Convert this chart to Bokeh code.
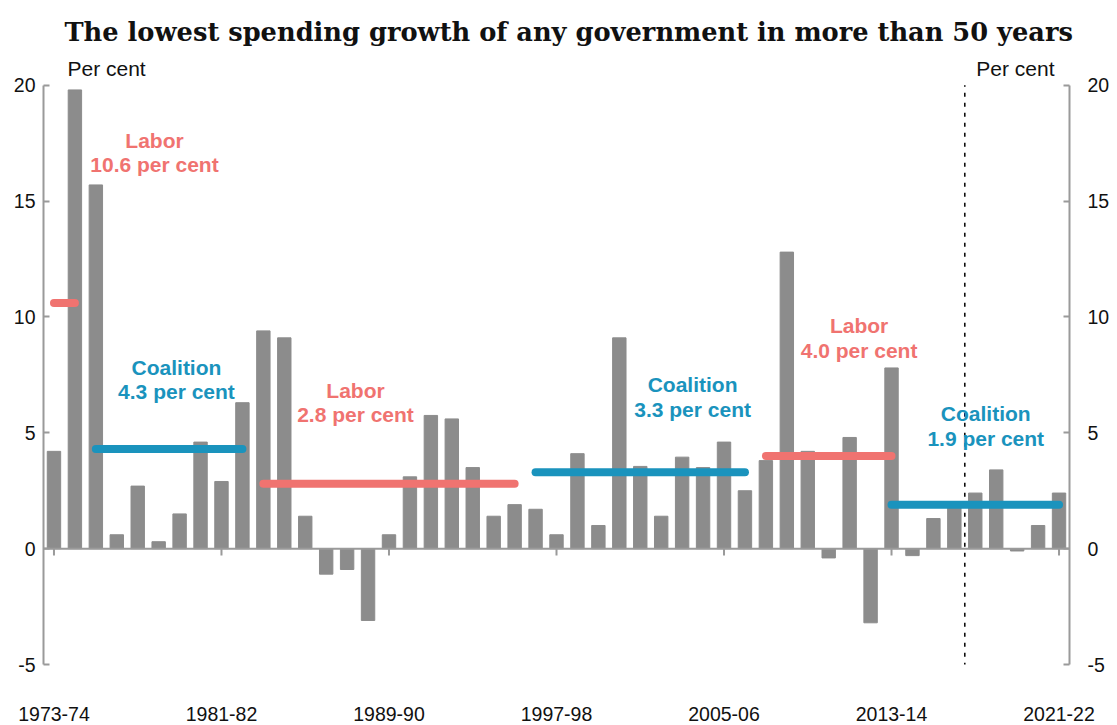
from bokeh.plotting import figure
from bokeh.models import (Range1d, LinearAxis, FixedTicker, Span, Label)
from bokeh.core.properties import value
from bokeh.embed import file_html
from bokeh.resources import INLINE

# ---------------- data ----------------
years = [f"{y}-{str(y + 1)[-2:]}" for y in range(1973, 2022)]
growth = [4.2, 19.8, 15.7, 0.6, 2.7, 0.3, 1.5, 4.6, 2.9, 6.3,
          9.4, 9.1, 1.4, -1.1, -0.9, -3.1, 0.6, 3.1, 5.75, 5.6,
          3.5, 1.4, 1.9, 1.7, 0.6, 4.1, 1.0, 9.1, 3.55, 1.4,
          3.95, 3.5, 4.6, 2.5, 3.8, 12.8, 4.2, -0.4, 4.8, -3.2,
          7.8, -0.3, 1.3, 1.8, 2.4, 3.4, -0.1, 1.0, 2.4]
tick_labels = ["1973-74", "1981-82", "1989-90", "1997-98", "2005-06", "2013-14", "2021-22"]
y_ticks = [-5, 0, 5, 10, 15, 20]
y_tick_labels = ["-5", "0", "5", "10", "15", "20"]

gov_party = ["Labor", "Coalition", "Labor", "Coalition", "Labor", "Coalition"]
gov_avg = [10.6, 4.3, 2.8, 3.3, 4.0, 1.9]
gov_start = ["1973-74", "1975-76", "1983-84", "1996-97", "2007-08", "2013-14"]
gov_end = ["1974-75", "1982-83", "1995-96", "2006-07", "2013-14", "2021-22"]
forecast_after = "2016-17"

# ---------------- styling / layout ----------------
LABOR = "#F07370"
COALITION = "#1A93BD"
BAR = "#8C8C8C"
AXIS = "#9A9A9A"
TEXT = "#111111"
party_color = {"Labor": LABOR, "Coalition": COALITION}
# annotation label anchor positions (index, value)
label_pos = [(4.8, 17.1), (5.85, 7.3), (14.4, 6.3), (30.5, 6.55), (38.45, 9.1), (44.5, 5.3)]

Y_LO, Y_HI, Y_TOP = -5, 20, 21.2   # range shown; axes drawn from Y_LO to Y_HI
PX_PER_UNIT = 579 / 25

idx = list(range(len(years)))
pos = {y: i for i, y in enumerate(years)}
ticks = [pos[t] for t in tick_labels]

p = figure(frame_width=1026, frame_height=round(PX_PER_UNIT * (Y_TOP - Y_LO)),
           output_backend="svg", toolbar_location=None,
           x_range=Range1d(-0.5, len(years) - 0.5), y_range=Range1d(Y_LO, Y_TOP),
           min_border_left=43, min_border_right=40, min_border_top=57, min_border_bottom=61)
p.outline_line_color = None
p.grid.visible = False
p.background_fill_color = "white"
p.border_fill_color = "white"

p.title.text = "The lowest spending growth of any government in more than 50 years"
p.title.text_font = "DejaVu Serif"
p.title.text_font_size = "25.7px"
p.title.text_font_style = "bold"
p.title.text_color = TEXT
p.title.align = "left"
p.title.standoff = 22
p.title.offset = 21

# y axes
right = LinearAxis()
p.add_layout(right, "right")
for ax in [p.yaxis[0], right]:
    ax.ticker = FixedTicker(ticks=y_ticks)
    ax.major_label_overrides = {t: lab for t, lab in zip(y_ticks, y_tick_labels)}
    ax.bounds = (Y_LO, Y_HI)
    ax.axis_line_color = AXIS
    ax.axis_line_width = 2
    ax.major_tick_line_color = AXIS
    ax.major_tick_line_width = 2
    ax.major_tick_in = 6
    ax.major_tick_out = 0
    ax.minor_tick_line_color = None
    ax.major_label_text_font = "Liberation Sans"
    ax.major_label_text_font_size = "19.5px"
    ax.major_label_text_color = TEXT
p.yaxis[0].major_label_standoff = 8
right.major_label_standoff = 18

# x axis: labels only, at bottom
xa = p.xaxis[0]
xa.ticker = FixedTicker(ticks=ticks)
xa.major_label_overrides = {t: lab for t, lab in zip(ticks, tick_labels)}
xa.axis_line_color = None
xa.major_tick_line_color = None
xa.minor_tick_line_color = None
xa.major_label_standoff = 36
xa.major_label_text_font = "Liberation Sans"
xa.major_label_text_font_size = "19.5px"
xa.major_label_text_color = TEXT

# bars
p.vbar(x=idx, top=growth, width=0.64, color=BAR, line_color=BAR)

# zero line with downward ticks
p.add_layout(Span(location=0, dimension="width", line_color=AXIS, line_width=2))
p.segment(x0=ticks, y0=[0] * len(ticks), x1=ticks, y1=[-0.3] * len(ticks),
          line_color=AXIS, line_width=2)

# forecast divider
fx = pos[forecast_after] + 0.5
p.segment(x0=[fx], y0=[Y_LO - 0.1], x1=[fx], y1=[Y_HI],
          line_color="black", line_width=1.5, line_dash="4 6")

# average lines and labels
for party, avg, s, e, (lx, ly) in zip(gov_party, gov_avg, gov_start, gov_end, label_pos):
    c = party_color[party]
    p.line([pos[s], pos[e]], [avg, avg], line_color=c, line_width=8, line_cap="round")
    p.text(x=[lx], y=[ly], text=[f"{party}\n{avg:.1f} per cent"], text_color=c,
           text_font=value("Liberation Sans"), text_font_style="bold", text_font_size="21px",
           text_align="center", text_baseline="middle", text_line_height=1.06)

# unit labels
for x, off, align in [(-0.5, 24, "left"), (len(years) - 0.5, -15, "right")]:
    p.add_layout(Label(x=x, y=Y_HI, x_offset=off, y_offset=17, text="Per cent",
                       text_font="Liberation Sans", text_font_size="21px", text_color=TEXT,
                       text_align=align, text_baseline="alphabetic"))

open("out.html", "w").write(file_html(p, INLINE))
